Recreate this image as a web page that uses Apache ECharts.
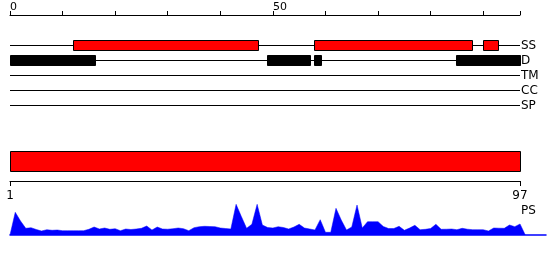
<!DOCTYPE html>
<html><head><meta charset="utf-8">
<script src="https://cdn.jsdelivr.net/npm/echarts@6/dist/echarts.min.js"></script>
<style>html,body{margin:0;padding:0;background:#fff}#c{width:550px;height:260px}</style>
</head><body><div id="c"></div>
<script>
const seqLength = 97;
const topTickLabels = [0, 50];
const trackNames = ['SS', 'D', 'TM', 'CC', 'SP'];
const ssSegments = [[12.0, 47.1], [57.9, 88.0], [90.0, 92.9]];
const dSegments = [[0, 16.2], [48.8, 57.0], [57.8, 59.1], [84.8, 97]];
const rangeTicks = [1, 97];
const psLabel = 'PS';
const psValues = [
  0, 22.7, 14, 6.7, 7.3, 5.5, 4, 5.3, 4.7, 5,
  4.3, 4.3, 4.3, 4.3, 4.3, 5.7, 8, 6, 7, 5.7,
  6.3, 4.3, 6, 5.5, 6, 6.7, 9, 5, 8, 6,
  5.8, 6.3, 7, 6.3, 4.3, 7.3, 8.3, 8.7, 8.5, 8.3,
  7, 6.5, 6, 30.7, 18.5, 6.7, 10.7, 30.7, 10, 7.5,
  7, 8.3, 7.5, 6, 8, 10.7, 7, 6, 5, 15.3,
  2.7, 2.7, 26.7, 15, 5, 8, 30, 7, 13.3, 13.3,
  13.3, 8.5, 6.5, 6.5, 8.7, 4.7, 7, 9.7, 5.3, 5.7,
  6.5, 10.7, 5.7, 5.8, 6, 5.3, 6.7, 5.8, 5.3, 5.3,
  5.3, 4, 7, 6.8, 6.7, 10, 8.3, 11, 0
];

const FONT = 'DejaVu Sans';
const chart = echarts.init(document.getElementById('c'), null, {renderer: 'canvas'});

function segItem(color, stroke) {
  return function (params, api) {
    const s = api.coord([api.value(0), api.value(2)]);
    const e = api.coord([api.value(1), api.value(2)]);
    const h = 10;
    return {
      type: 'rect',
      shape: {x: Math.round(s[0]) + 0.5, y: s[1] - h / 2, width: Math.round(e[0] - s[0]), height: h},
      style: {fill: color, stroke: stroke, lineWidth: 1}
    };
  };
}
function lineItem(params, api) {
  const s = api.coord([api.value(0), api.value(2)]);
  const e = api.coord([api.value(1), api.value(2)]);
  return {
    type: 'line',
    shape: {x1: s[0], y1: s[1], x2: e[0], y2: e[1]},
    style: {stroke: '#000', lineWidth: 1}
  };
}

const option = {
  animation: false,
  textStyle: {fontFamily: FONT},
  grid: [
    {left: 10, top: 15, width: 510, height: 0},
    {left: 10, top: 38, width: 510, height: 75},
    {left: 10, top: 151, width: 510, height: 30},
    {left: 10, top: 204, width: 536, height: 31}
  ],
  xAxis: [
    {gridIndex: 0, type: 'value', position: 'top', min: 0, max: seqLength, interval: 10,
      axisLine: {lineStyle: {color: '#000', width: 1}},
      axisTick: {length: 4, lineStyle: {color: '#000'}},
      axisLabel: {customValues: topTickLabels, align: 'left', margin: 2, fontSize: 11, color: '#000', fontFamily: FONT},
      splitLine: {show: false}},
    {gridIndex: 1, type: 'value', min: 0, max: seqLength, show: false},
    {gridIndex: 2, type: 'value', min: rangeTicks[0], max: rangeTicks[1],
      axisLine: {lineStyle: {color: '#000', width: 1}},
      axisTick: {customValues: rangeTicks, length: 5, lineStyle: {color: '#000'}},
      axisLabel: {customValues: rangeTicks, margin: 9, fontSize: 12, color: '#000', fontFamily: FONT},
      splitLine: {show: false}},
    {gridIndex: 3, type: 'value', min: 0, max: 101.94,
      axisLine: {lineStyle: {color: '#0000ff', width: 1.5}},
      axisTick: {show: false}, axisLabel: {show: false}, splitLine: {show: false}}
  ],
  yAxis: [
    {gridIndex: 0, type: 'value', show: false},
    {gridIndex: 1, type: 'category', data: trackNames, inverse: true, position: 'right',
      axisLine: {show: false}, axisTick: {show: false},
      axisLabel: {interval: 0, margin: 1, fontSize: 12, color: '#000', fontFamily: FONT}},
    {gridIndex: 2, type: 'value', min: 0, max: 3, show: false},
    {gridIndex: 3, type: 'value', min: 0, max: 31, show: false}
  ],
  graphic: [
    {type: 'text', left: 521, top: 205, style: {text: psLabel, font: '12px "DejaVu Sans"', fill: '#000'}}
  ],
  series: [
    {type: 'custom', xAxisIndex: 1, yAxisIndex: 1, renderItem: lineItem,
      encode: {x: [0, 1], y: 2},
      data: trackNames.map(n => [0, seqLength, n])},
    {type: 'custom', xAxisIndex: 1, yAxisIndex: 1, renderItem: segItem('#ff0000', '#000'),
      encode: {x: [0, 1], y: 2},
      data: ssSegments.map(s => [s[0], s[1], 'SS'])},
    {type: 'custom', xAxisIndex: 1, yAxisIndex: 1, renderItem: segItem('#000', '#000'),
      encode: {x: [0, 1], y: 2},
      data: dSegments.map(s => [s[0], s[1], 'D'])},
    {type: 'custom', xAxisIndex: 2, yAxisIndex: 2,
      encode: {x: [0, 1], y: [2, 3]},
      renderItem: function (params, api) {
        const a = api.coord([api.value(0), api.value(3)]);
        const b = api.coord([api.value(1), api.value(2)]);
        return {type: 'rect', shape: {x: a[0] + 0.5, y: a[1] + 0.5, width: b[0] - a[0], height: b[1] - a[1]},
          style: {fill: '#ff0000', stroke: '#000', lineWidth: 1}};
      },
      data: [[rangeTicks[0], rangeTicks[1], 1, 3]]},
    {type: 'line', xAxisIndex: 3, yAxisIndex: 3, symbol: 'none', silent: true,
      lineStyle: {width: 0.5, color: '#0000ff'},
      areaStyle: {color: '#0000ff', opacity: 1},
      data: psValues.map((v, i) => [i, v])}
  ]
};
chart.setOption(option);
</script>
</body></html>
